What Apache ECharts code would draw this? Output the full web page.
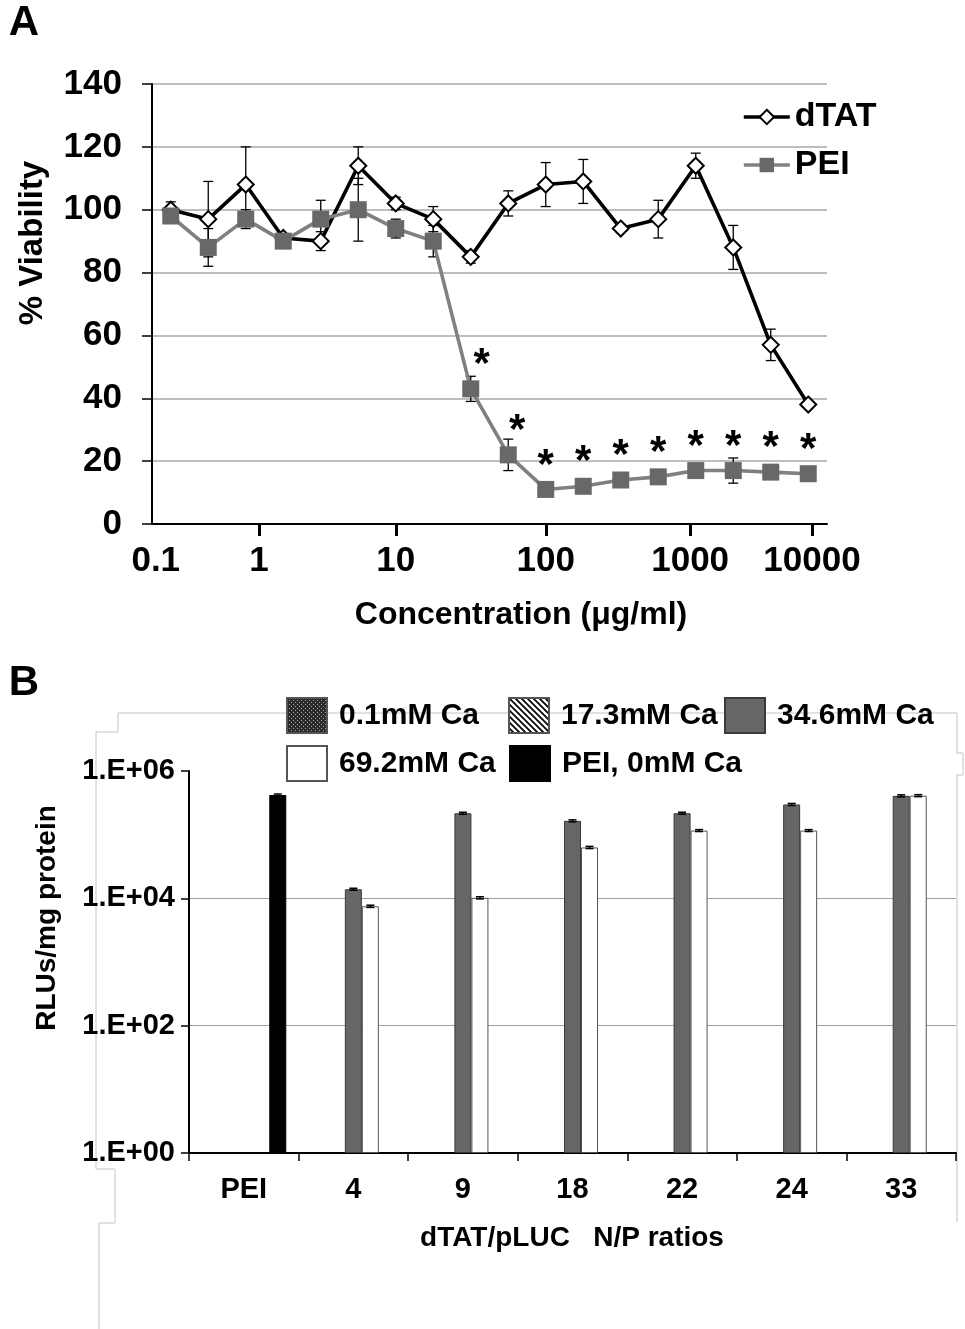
<!DOCTYPE html>
<html><head><meta charset="utf-8">
<script src="https://cdn.jsdelivr.net/npm/echarts@6/dist/echarts.min.js"></script>
<style>html,body{margin:0;padding:0;background:#fff}#c{width:965px;height:1329px}</style>
</head><body><div id="c"></div>
<script>
// ---------- Panel A data ----------
const doseSteps = ['1','2','3','4','5','6','7','8','9','10','11','12','13','14','15','16','17','18'];
const dtatViability = [100, 97, 108, 91, 90, 114, 102, 97, 85, 102, 108, 109, 94, 97, 114, 88, 57, 38];
const dtatError     = [2.5, 12, 12, 1, 3, 6, 2, 4, 2, 4, 7, 7, 1, 6, 4, 7, 5, 0];
const peiViability  = [98, 88, 97, 90, 97, 100, 94, 90, 43, 22, 11, 12, 14, 15, 17, 17, 16.5, 16];
const peiError      = [2, 6, 3, 1, 6, 10, 3, 5, 4, 5, 1, 1, 1, 1, 1, 4, 1, 1];
const significant   = [0, 0, 0, 0, 0, 0, 0, 0, 1, 1, 1, 1, 1, 1, 1, 1, 1, 1];
const concTickLabels = ['0.1', '1', '10', '100', '1000', '10000'];
const concTickAtStep = [-0.4, 2.35, 6, 10, 13.85, 17.1];

// ---------- Panel B data ----------
const npRatios = ['PEI', '4', '9', '18', '22', '24', '33'];
const rluCa01  = [null, null, null, null, null, null, null];
const rluCa173 = [null, null, null, null, null, null, null];
const rluCa346 = [null, 13900, 217000, 165000, 217000, 298000, 407000];
const rluCa692 = [null, 7500, 10200, 63000, 116000, 116000, 410000];
const rluPEI   = [420000, null, null, null, null, null, null];
const rluCa346Err = [null, 500, 8000, 6000, 8000, 11000, 15000];
const rluCa692Err = [null, 300, 400, 2500, 4000, 4000, 15000];
const rluPEIErr   = [15000, null, null, null, null, null, null];

const FONT = '"Liberation Sans", Arial, Helvetica, sans-serif';

function makePattern(kind) {
  const c = document.createElement('canvas');
  const g = c.getContext('2d');
  if (kind === 'dots') {
    c.width = 4; c.height = 4;
    g.fillStyle = '#2b2b2b'; g.fillRect(0, 0, 4, 4);
    g.fillStyle = '#a0a0a0'; g.fillRect(0, 0, 1, 1); g.fillRect(2, 2, 1, 1);
  } else {
    c.width = 6; c.height = 6;
    g.fillStyle = '#fff'; g.fillRect(0, 0, 6, 6);
    g.strokeStyle = '#000'; g.lineWidth = 1.7;
    g.beginPath();
    g.moveTo(-1, -1); g.lineTo(7, 7);
    g.moveTo(-4, 2); g.lineTo(4, 10);
    g.moveTo(2, -4); g.lineTo(10, 4);
    g.stroke();
  }
  return { image: c, repeat: 'repeat' };
}

function errorSeries(values, errs, xAxisIndex, yAxisIndex, pxOffset, capHalf, lw, z) {
  return {
    type: 'custom', xAxisIndex, yAxisIndex, z, silent: true,
    data: values.map((v, i) => [i, v == null ? 0 : v, (v == null || errs[i] == null) ? 0 : errs[i]]),
    renderItem: (p, api) => {
      const i = api.value(0), v = api.value(1), e = api.value(2);
      if (!e || !v) return null;
      const t = api.coord([i, v + e]), b = api.coord([i, v - e]);
      const x = t[0] + pxOffset;
      const st = { stroke: '#000', lineWidth: lw };
      return { type: 'group', children: [
        { type: 'line', shape: { x1: x, y1: t[1], x2: x, y2: b[1] }, style: st },
        { type: 'line', shape: { x1: x - capHalf, y1: t[1], x2: x + capHalf, y2: t[1] }, style: st },
        { type: 'line', shape: { x1: x - capHalf, y1: b[1], x2: x + capHalf, y2: b[1] }, style: st }
      ]};
    }
  };
}

const peiData = peiViability.map((v, i) => ({
  value: v,
  label: {
    show: !!significant[i],
    offset: [i === 8 ? 11 : (i === 9 ? 9 : 0), 6]
  }
}));

function legendB(name, left, top) {
  return {
    data: [name], left, top, padding: 0, itemWidth: 40, itemHeight: 35, icon: 'rect',
    selectedMode: false,
    textStyle: { fontSize: 30, fontWeight: 'bold', color: '#000', fontFamily: FONT, lineHeight: 35, padding: [0, 0, 0, 7] }
  };
}

const chart = echarts.init(document.getElementById('c'), null, { renderer: 'canvas', width: 965, height: 1329 });

const option = {
  animation: false,
  backgroundColor: '#fff',
  textStyle: { fontFamily: FONT, fontWeight: 'bold', color: '#000' },
  grid: [
    { left: 152, top: 84, width: 675, height: 440, outerBoundsMode: 'none', containLabel: false },
    { left: 189, top: 771, width: 767, height: 382, outerBoundsMode: 'none', containLabel: false }
  ],
  xAxis: [
    { gridIndex: 0, type: 'category', data: doseSteps, boundaryGap: true,
      axisLine: { show: true, onZero: false, lineStyle: { color: '#000', width: 2 } },
      axisTick: { show: false }, axisLabel: { show: false }, splitLine: { show: false } },
    { gridIndex: 0, type: 'value', min: -0.5, max: 17.5, position: 'bottom',
      axisLine: { show: false, onZero: false }, splitLine: { show: false },
      axisTick: { show: true, customValues: concTickAtStep.slice(1), length: 12, lineStyle: { color: '#000', width: 3 } },
      axisLabel: { show: true, customValues: concTickAtStep,
        formatter: v => concTickLabels[concTickAtStep.indexOf(v)],
        fontSize: 35, fontWeight: 'bold', color: '#000', fontFamily: FONT, margin: 20 } },
    { gridIndex: 1, type: 'category', data: npRatios, boundaryGap: true,
      axisLine: { show: true, onZero: false, lineStyle: { color: '#000', width: 2 } },
      axisTick: { show: true, length: 8, alignWithLabel: false, lineStyle: { color: '#000', width: 1.5 } },
      axisLabel: { fontSize: 29, fontWeight: 'bold', color: '#000', fontFamily: FONT, margin: 22 },
      splitLine: { show: false } }
  ],
  yAxis: [
    { gridIndex: 0, type: 'value', min: 0, max: 140, interval: 20,
      axisLine: { show: true, onZero: false, lineStyle: { color: '#000', width: 2 } },
      axisTick: { show: true, length: 10, lineStyle: { color: '#000', width: 1.5 } },
      axisLabel: { fontSize: 35, fontWeight: 'bold', color: '#000', fontFamily: FONT, margin: 30 },
      splitLine: { show: true, lineStyle: { color: '#a8a8a8', width: 1.5 } } },
    { gridIndex: 1, type: 'log', logBase: 10, min: 1, max: 1000000, interval: 2,
      axisLine: { show: true, onZero: false, lineStyle: { color: '#000', width: 2 } },
      axisTick: { show: true, length: 8, lineStyle: { color: '#000', width: 1.5 } },
      axisLabel: { fontSize: 29, fontWeight: 'bold', color: '#000', fontFamily: FONT, margin: 14,
        formatter: v => '1.E+' + String(Math.round(Math.log10(v))).padStart(2, '0') },
      splitLine: { show: true, showMinLine: false, showMaxLine: false, lineStyle: { color: '#a0a0a0', width: 1 } } }
  ],
  legend: [
    { data: ['dTAT', 'PEI'], orient: 'vertical', left: 742, top: 100, padding: 0,
      itemWidth: 46, itemHeight: 18, itemGap: 14, selectedMode: false,
      lineStyle: { width: 3.6 },
      textStyle: { fontSize: 34, fontWeight: 'bold', color: '#000', fontFamily: FONT, lineHeight: 34 } },
    legendB('0.1mM Ca', 286, 697),
    legendB('17.3mM Ca', 508, 697),
    legendB('34.6mM Ca', 724, 697),
    legendB('69.2mM Ca', 286, 745),
    legendB('PEI, 0mM Ca', 509, 745)
  ],
  series: [
    errorSeries(dtatViability, dtatError, 0, 0, 0, 5, 1.3, 2),
    errorSeries(peiViability, peiError, 0, 0, 0, 5, 1.3, 2),
    { name: 'dTAT', type: 'line', xAxisIndex: 0, yAxisIndex: 0, data: dtatViability, z: 3,
      symbol: 'diamond', symbolSize: 16, showAllSymbol: true,
      lineStyle: { color: '#000', width: 3.6 },
      itemStyle: { color: '#fff', borderColor: '#000', borderWidth: 2 } },
    { name: 'PEI', type: 'line', xAxisIndex: 0, yAxisIndex: 0, data: peiData, z: 4,
      symbol: 'rect', symbolSize: 17, showAllSymbol: true,
      lineStyle: { color: '#808080', width: 3.6 },
      itemStyle: { color: '#686868', borderColor: '#686868', borderWidth: 0 },
      label: { show: false, position: 'top', distance: 0, formatter: '*', fontSize: 42, fontWeight: 'bold', color: '#000', fontFamily: FONT, lineHeight: 42 } },
    { name: '0.1mM Ca', type: 'bar', xAxisIndex: 2, yAxisIndex: 1, data: rluCa01, barWidth: 17, barGap: '0%',
      itemStyle: { color: makePattern('dots'), borderColor: '#555', borderWidth: 1 } },
    { name: '17.3mM Ca', type: 'bar', xAxisIndex: 2, yAxisIndex: 1, data: rluCa173, barWidth: 17, barGap: '0%',
      itemStyle: { color: makePattern('stripes'), borderColor: '#555', borderWidth: 1 } },
    { name: '34.6mM Ca', type: 'bar', xAxisIndex: 2, yAxisIndex: 1, data: rluCa346, barWidth: 17, barGap: '0%',
      itemStyle: { color: '#666666', borderColor: '#3a3a3a', borderWidth: 1 } },
    { name: '69.2mM Ca', type: 'bar', xAxisIndex: 2, yAxisIndex: 1, data: rluCa692, barWidth: 17, barGap: '0%',
      itemStyle: { color: '#ffffff', borderColor: '#555', borderWidth: 1 } },
    { name: 'PEI, 0mM Ca', type: 'bar', xAxisIndex: 2, yAxisIndex: 1, data: rluPEI, barWidth: 17, barGap: '0%',
      itemStyle: { color: '#000000', borderColor: '#000', borderWidth: 1 } },
    errorSeries(rluCa346, rluCa346Err, 2, 1, 0, 4, 1.5, 5),
    errorSeries(rluCa692, rluCa692Err, 2, 1, 17, 4, 1.5, 5),
    errorSeries(rluPEI, rluPEIErr, 2, 1, 34, 4, 1.5, 5)
  ],
  graphic: [
    { type: 'polyline', z: -1, silent: true,
      shape: { points: [[118, 732], [118, 713], [957, 713], [957, 753], [963, 753], [963, 775], [957, 775], [957, 1222]] },
      style: { stroke: '#c4c4c4', lineWidth: 1, fill: null } },
    { type: 'polyline', z: -1, silent: true,
      shape: { points: [[118, 732], [96, 732], [96, 1169], [115, 1169], [115, 1223], [99, 1223], [99, 1329]] },
      style: { stroke: '#c4c4c4', lineWidth: 1, fill: null } },
    { type: 'text', x: 24, y: 23, style: { text: 'A', font: 'bold 42px ' + FONT, fill: '#000', textAlign: 'center', textVerticalAlign: 'middle' } },
    { type: 'text', x: 24, y: 683, style: { text: 'B', font: 'bold 42px ' + FONT, fill: '#000', textAlign: 'center', textVerticalAlign: 'middle' } },
    { type: 'text', x: 33, y: 243, rotation: Math.PI / 2, style: { text: '% Viability', font: 'bold 33px ' + FONT, fill: '#000', textAlign: 'center', textVerticalAlign: 'middle' } },
    { type: 'text', x: 521, y: 615, style: { text: 'Concentration (\u03bcg/ml)', font: 'bold 32px ' + FONT, fill: '#000', textAlign: 'center', textVerticalAlign: 'middle' } },
    { type: 'text', x: 47, y: 918, rotation: Math.PI / 2, style: { text: 'RLUs/mg protein', font: 'bold 28px ' + FONT, fill: '#000', textAlign: 'center', textVerticalAlign: 'middle' } },
    { type: 'text', x: 572, y: 1238, style: { text: 'dTAT/pLUC   N/P ratios', font: 'bold 28px ' + FONT, fill: '#000', textAlign: 'center', textVerticalAlign: 'middle' } }
  ]
};
chart.setOption(option);
</script>
</body></html>
